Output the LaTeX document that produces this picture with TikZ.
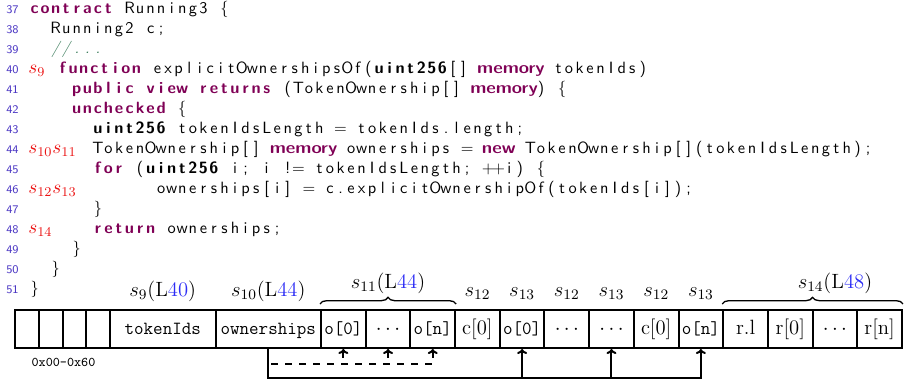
\RequirePackage{fix-cm}
\documentclass[tikz,border=0pt]{standalone}
\usepackage{fontspec}
\usetikzlibrary{decorations.pathreplacing,arrows.meta}
\newfontfamily\codefont{lmsans10-regular.otf}[BoldFont=lmsans10-bold.otf, ItalicFont=lmsans10-oblique.otf]
\newfontfamily\codedc{lmsansdemicond10-regular.otf}[FakeStretch=1.32]
\definecolor{kwc}{RGB}{127,0,85}
\definecolor{lnc}{RGB}{75,55,195}
\definecolor{cmc}{RGB}{63,127,95}
\definecolor{sred}{RGB}{235,20,20}
\definecolor{numblue}{RGB}{45,45,245}
\newdimen\fcw \fcw=6.33pt
\ExplSyntaxOn
\NewDocumentCommand\C{m}{ \str_map_inline:nn {#1} { \makebox[\fcw][c]{##1} } }
\NewDocumentCommand\M{m}{ \hbox_to_wd:nn { \str_count:n {#1} \fcw } { \hss {\color{kwc}\codedc #1} \hss } }
\ExplSyntaxOff
\newcommand\K[1]{{\color{kwc}\bfseries\C{#1}}}
\newcommand\T[1]{{\bfseries\C{#1}}}
\newcommand\LB{\makebox[\fcw][c]{\{}}
\newcommand\RB{\makebox[\fcw][c]{\}}}
\newcommand\lbl[1]{{\color{sred}$#1$}}
\begin{document}
\begin{tikzpicture}[x=0.6pt,y=-0.6pt,
  codeline/.style={anchor=base west, inner sep=0pt, font=\fontsize{9.8}{12}\selectfont\codefont},
  lineno/.style={anchor=base east, inner sep=0pt, text=lnc, font=\fontsize{7}{8}\selectfont\sffamily},
  slabel/.style={anchor=base west, inner sep=0pt, font=\fontsize{11.5}{13}\selectfont},
  cell/.style={draw, line width=1.2pt, minimum height=22.8pt, inner sep=0pt, text height=8pt, text depth=2pt},
  small/.style={cell, minimum width=14.25pt},
  wide/.style={cell, minimum width=63.3pt, font=\fontsize{11.1}{13}\selectfont\ttfamily},
  ttcell/.style={cell, minimum width=26.815pt, font=\fontsize{11.1}{13}\selectfont\ttfamily},
  rmcell/.style={cell, minimum width=26.815pt, font=\fontsize{12.4}{14}\selectfont},
  toplabel/.style={anchor=base, inner sep=0pt, font=\fontsize{12.4}{14}\selectfont},
  conn/.style={line width=1.2pt, -{To[length=3pt,width=6pt]}},
  dconn/.style={line width=1.2pt, dash pattern=on 4.2pt off 4.2pt, {To[length=3pt,width=6pt]}-},
  brc/.style={line width=0.8pt, decorate, decoration={brace, amplitude=4pt, raise=3pt}}
]
\useasboundingbox (0,0) rectangle (904,382);
% line numbers
\foreach \k in {37,...,51}{
  \node[lineno] (n\k) at (19,{13.3+20*(\k-37)}) {\k};
}
% code
\node[codeline] (l37) at (29,13.3) {\K{contract}\C{ Running3 }\LB};
\node[codeline] (l38) at (50.1,33.3) {\C{Running2 c;}};
\node[codeline] (l39) at (50.1,53.3) {{\color{cmc}\itshape\C{//...}}};
\node[codeline] (l40) at (57,73.3) {\K{function}\C{ explicitOwnershipsOf(}\T{uint256}\C{[] }\M{memory}\C{ tokenIds)}};
\node[codeline] (l41) at (71.2,93.3) {\K{public view returns}\C{ (TokenOwnership[] }\M{memory}\C{) }\LB};
\node[codeline] (l42) at (71.2,113.3) {\K{unchecked}\C{ }\LB};
\node[codeline] (l43) at (92.3,133.3) {\T{uint256}\C{ tokenIdsLength = tokenIds.length;}};
\node[codeline] (l44) at (92.3,153.3) {\C{TokenOwnership[] }\M{memory}\C{ ownerships = }\M{new}\C{ TokenOwnership[](tokenIdsLength);}};
\node[codeline] (l45) at (92.3,173.3) {\K{for}\C{ (}\T{uint256}\C{ i; i != tokenIdsLength; ++i) }\LB};
\node[codeline] (l46) at (155.6,193.3) {\C{ownerships[i] = c.explicitOwnershipOf(tokenIds[i]);}};
\node[codeline] (l47) at (92.3,213.3) {\RB};
\node[codeline] (l48) at (92.3,233.3) {\K{return}\C{ ownerships;}};
\node[codeline] (l49) at (71.2,253.3) {\RB};
\node[codeline] (l50) at (50.1,273.3) {\RB};
\node[codeline] (l51) at (29,293.3) {\RB};
% red step labels
\node[slabel] (s9) at (28,73.3) {\lbl{s_{9}}};
\node[slabel] (s1011) at (28,153.3) {\lbl{s_{10}s_{11}}};
\node[slabel] (s1213) at (28,193.3) {\lbl{s_{12}s_{13}}};
\node[slabel] (s14) at (28,233.3) {\lbl{s_{14}}};
% memory cells
\node[small] (m1) at (26.875,329) {};
\node[small] (m2) at (50.625,329) {};
\node[small] (m3) at (74.375,329) {};
\node[small] (m4) at (98.125,329) {};
\node[wide] (tok) at (162.75,329) {tokenIds};
\node[wide] (own) at (268.25,329) {ownerships};
\node[ttcell] (a0) at (343.35,329) {o[0]};
\node[rmcell] (a1) at (388.04,329) {$\cdots$};
\node[ttcell] (a2) at (432.73,329) {o[n]};
\node[rmcell] (c1) at (477.42,329) {c[0]};
\node[ttcell] (b1) at (522.11,329) {o[0]};
\node[rmcell] (d1) at (566.80,329) {$\cdots$};
\node[rmcell] (d2) at (611.49,329) {$\cdots$};
\node[rmcell] (c2) at (656.18,329) {c[0]};
\node[ttcell] (b2) at (700.87,329) {o[n]};
\node[rmcell] (rl) at (745.56,329) {r.l};
\node[rmcell] (r0) at (790.25,329) {r[0]};
\node[rmcell] (rd) at (834.94,329) {$\cdots$};
\node[rmcell] (rn) at (879.63,329) {r[n]};
\node[inner sep=0pt, font=\fontsize{8}{9}\selectfont\ttfamily] (addr) at (63.5,362) {0x00-0x60};
% labels above
\node[toplabel] (t9) at (162.75,296) {$s_{9}$(L{\color{numblue}40})};
\node[toplabel] (t10) at (268.25,296) {$s_{10}$(L{\color{numblue}44})};
\node[toplabel] (t11) at (388.04,288) {$s_{11}$(L{\color{numblue}44})};
\node[toplabel] (t12a) at (477.42,296) {$s_{12}$};
\node[toplabel] (t13a) at (522.11,296) {$s_{13}$};
\node[toplabel] (t12b) at (566.80,296) {$s_{12}$};
\node[toplabel] (t13b) at (611.49,296) {$s_{13}$};
\node[toplabel] (t12c) at (656.18,296) {$s_{12}$};
\node[toplabel] (t13c) at (700.87,296) {$s_{13}$};
\node[toplabel] (t14) at (834.94,288) {$s_{14}$(L{\color{numblue}48})};
% braces
\draw[brc] (a0.north west) -- (a2.north east);
\draw[brc] (rl.north west) -- (rn.north east);
% connectors
\coordinate (lowy) at (0,378);
\coordinate (dashy) at (0,364);
\draw[conn] (own.south) -- (own.south |- lowy) -- (b2.south |- lowy) -- (b2.south);
\draw[conn] (b1.south |- lowy) -- (b1.south);
\draw[conn] (d2.south |- lowy) -- (d2.south);
\draw[dconn] (a2.south) -- (a2.south |- dashy) -- (own.south |- dashy);
\draw[dconn] (a0.south) -- (a0.south |- dashy);
\draw[dconn] (a1.south) -- (a1.south |- dashy);
\end{tikzpicture}
\end{document}
